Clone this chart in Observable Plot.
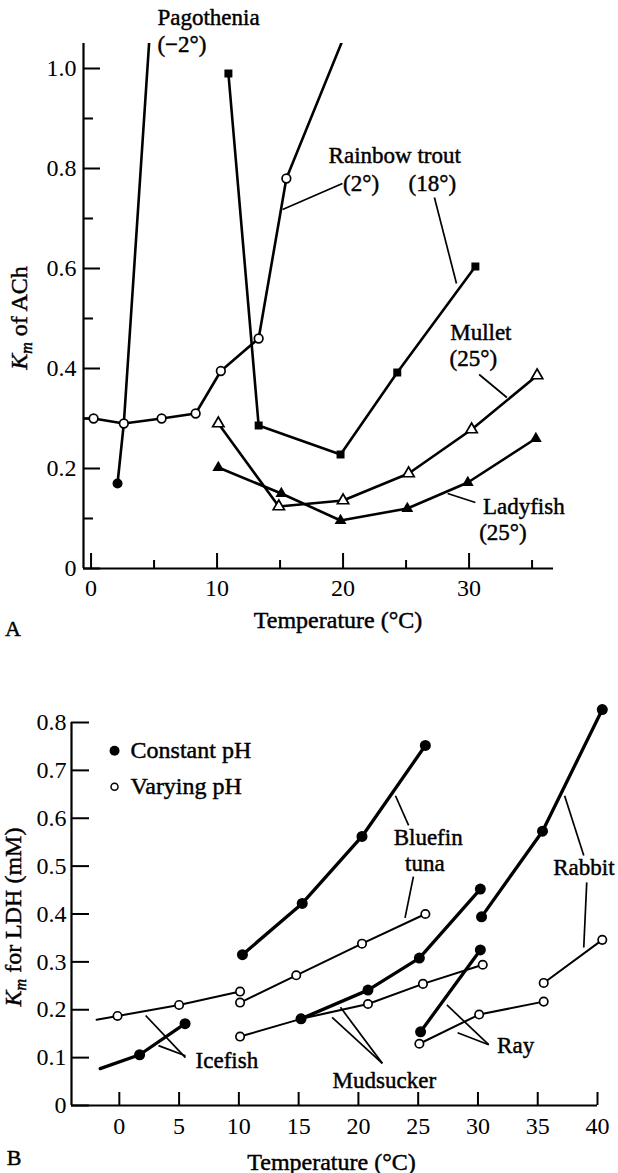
<!DOCTYPE html>
<html><head><meta charset="utf-8">
<script src="https://cdn.jsdelivr.net/npm/d3@7"></script>
<script src="https://cdn.jsdelivr.net/npm/@observablehq/plot@0.6"></script>
<style>
body{margin:0;background:#fff;}
#wrap{width:618px;height:1173px;position:relative;background:#fff;}
#wrap svg{display:block;}
</style></head><body><div id="wrap"></div>
<script>
// ---------- Panel A data: Km of ACh vs temperature ----------
const pagoTemp = [2.1, 2.6, 5.0];
const pagoKm   = [0.17, 0.29, 1.2];
const pagoMark = [1, 0, 0];

const trout2Temp = [-1.5, 0.2, 2.6, 5.6, 8.3, 10.3, 13.3, 15.5, 20.5];
const trout2Km   = [0.30, 0.30, 0.29, 0.30, 0.31, 0.395, 0.46, 0.78, 1.09];
const trout2Mark = [0, 1, 1, 1, 1, 1, 1, 1, 0];

const trout18Temp = [10.9, 13.3, 19.8, 24.3, 30.5];
const trout18Km   = [0.99, 0.286, 0.228, 0.392, 0.604];

const mulletTemp = [10.1, 14.9, 20.0, 25.2, 30.2, 35.4];
const mulletKm   = [0.29, 0.124, 0.136, 0.19, 0.278, 0.386];

const ladyTemp = [10.1, 15.1, 19.8, 25.1, 29.9, 35.3];
const ladyKm   = [0.202, 0.15, 0.096, 0.12, 0.172, 0.26];

const aXDomain = [-0.6, 36.7];
const aYDomain = [0, 1.05];
const aYMajor = [0, 0.2, 0.4, 0.6, 0.8, 1.0];
const aYMinor = [0.1, 0.3, 0.5, 0.7, 0.9];
const aXMajor = [0, 10, 20, 30];
const aXMinor = [5, 15, 25, 35];

const aLabels = ["Pagothenia", "(\u22122°)", "Rainbow trout", "(2°)", "(18°)", "Mullet", "(25°)", "Ladyfish", "(25°)"];
const aLabelT = [5.27, 5.27, 18.85, 20.0, 25.2, 28.5, 28.45, 31.1, 30.8];
const aLabelV = [1.102, 1.048, 0.826, 0.77, 0.77, 0.472, 0.42, 0.124, 0.072];
const aPanel = {label: "A", t: -6.2, v: -0.12};
const aTitle = {label: "Temperature (°C)", t: 19.6, v: -0.104};

const aLeadT1 = [19.95, 27.25, 30.8, 30.5];
const aLeadV1 = [0.77, 0.742, 0.388, 0.132];
const aLeadT2 = [15.2, 29.0, 33.0, 28.3];
const aLeadV2 = [0.718, 0.57, 0.342, 0.15];

// ---------- Panel B data: Km for LDH vs temperature ----------
const iceConstTemp = [-1.6, 1.7, 5.5];
const iceConstKm   = [0.077, 0.106, 0.171];
const iceConstMark = [0, 1, 1];
const iceVarTemp = [-1.9, -0.15, 5.0, 10.1];
const iceVarKm   = [0.179, 0.187, 0.21, 0.238];
const iceVarMark = [0, 1, 1, 1];

const tunaConstTemp = [10.3, 15.3, 20.3, 25.6];
const tunaConstKm   = [0.315, 0.422, 0.562, 0.752];
const tunaVarTemp = [10.1, 14.8, 20.3, 25.6];
const tunaVarKm   = [0.215, 0.272, 0.338, 0.40];

const mudConstTemp = [15.2, 20.8, 25.1, 30.2];
const mudConstKm   = [0.181, 0.241, 0.308, 0.452];
const mudVarTemp = [10.1, 15.2, 20.8, 25.4, 30.4];
const mudVarKm   = [0.144, 0.181, 0.212, 0.254, 0.294];

const rayConstTemp = [25.2, 30.2];
const rayConstKm   = [0.154, 0.325];
const rayVarTemp = [25.1, 30.1, 35.5];
const rayVarKm   = [0.129, 0.19, 0.217];

const rabConstTemp = [30.3, 35.4, 40.4];
const rabConstKm   = [0.394, 0.573, 0.827];
const rabVarTemp = [35.5, 40.4];
const rabVarKm   = [0.256, 0.346];

const bXDomain = [-4, 40];
const bYDomain = [0, 0.8];
const bYTicks = [0, 0.1, 0.2, 0.3, 0.4, 0.5, 0.6, 0.7, 0.8];
const bXTicks = [0, 5, 10, 15, 20, 25, 30, 35, 40];

const legendNames = ["Constant pH", "Varying pH"];
const legendT = -0.4;
const legendTextT = 0.94;
const legendV = [0.741, 0.666];

const bLabels = ["Bluefin", "tuna", "Rabbit", "Icefish", "Mudsucker", "Ray"];
const bLabelT = [22.95, 23.9, 36.3, 6.38, 17.84, 31.6];
const bLabelV = [0.56, 0.505, 0.497, 0.094, 0.052, 0.125];
const bPanel = {label: "B", t: -8.8, v: -0.11};
const bTitle = {label: "Temperature (°C)", t: 17.75, v: -0.119};

const bLeadT1 = [23.1, 24.6, 37.25, 39.1, 5.53, 5.53, 22.0, 22.0, 30.9, 30.9];
const bLeadV1 = [0.647, 0.478, 0.647, 0.466, 0.10, 0.104, 0.088, 0.088, 0.127, 0.127];
const bLeadT2 = [24.2, 23.9, 38.85, 38.85, 2.2, 3.28, 17.8, 18.5, 27.4, 28.3];
const bLeadV2 = [0.585, 0.392, 0.522, 0.33, 0.188, 0.125, 0.184, 0.205, 0.21, 0.152];

// ---------- helpers ----------
const FONT = "'Liberation Serif', 'Times New Roman', serif";
const series = (temps, vals, marks) => temps.map((t, i) => ({t, v: vals[i], m: marks ? marks[i] : 1}));
const shown = s => s.filter(d => d.m);
const zip3 = (a, b, c) => a.map((x, i) => ({label: x, t: b[i], v: c[i]}));
const links = (t1, v1, t2, v2) => t1.map((x, i) => ({t1: x, v1: v1[i], t2: t2[i], v2: v2[i]}));
const fmt = d => d === 0 ? "0" : d.toFixed(1);
const ink = {stroke: "black", strokeWidth: 0.45, fill: "black"};

// ---------- Panel A ----------
const pago = series(pagoTemp, pagoKm, pagoMark);
const trout2 = series(trout2Temp, trout2Km, trout2Mark);
const trout18 = series(trout18Temp, trout18Km);
const mullet = series(mulletTemp, mulletKm);
const lady = series(ladyTemp, ladyKm);
const lineA = {x: "t", y: "v", stroke: "black", strokeWidth: 2.6, clip: true};

const plotA = Plot.plot({
  width: 618, height: 640,
  marginLeft: 83, marginRight: 65, marginTop: 43, marginBottom: 72,
  x: {domain: aXDomain, axis: null},
  y: {domain: aYDomain, axis: null},
  style: {fontFamily: FONT, fontSize: "24px", background: "white", color: "black", overflow: "visible"},
  marks: [
    Plot.ruleY([aYDomain[0]], {strokeWidth: 2.2}),
    Plot.ruleX([aXDomain[0]], {y1: aYDomain[0], y2: aYDomain[1], strokeWidth: 2.2}),
    Plot.axisY(aYMajor, {tickSize: -17, tickFormat: () => "", strokeWidth: 2, label: null}),
    Plot.axisY(aYMinor, {tickSize: -10, tickFormat: () => "", strokeWidth: 2, label: null}),
    Plot.axisY(aYMajor, {tickSize: 0, tickPadding: 7, tickFormat: fmt, fontSize: 24, ...ink, label: null}),
    Plot.axisX(aXMajor, {tickSize: -15, tickFormat: () => "", strokeWidth: 2, label: null}),
    Plot.axisX(aXMinor, {tickSize: -8, tickFormat: () => "", strokeWidth: 2, label: null}),
    Plot.axisX(aXMajor, {tickSize: 0, tickPadding: 10, fontSize: 24, ...ink, label: null}),
    Plot.line(pago, lineA),
    Plot.line(trout2, lineA),
    Plot.line(trout18, lineA),
    Plot.line(mullet, lineA),
    Plot.line(lady, lineA),
    Plot.link(links(aLeadT1, aLeadV1, aLeadT2, aLeadV2), {x1: "t1", y1: "v1", x2: "t2", y2: "v2", stroke: "black", strokeWidth: 1.7}),
    Plot.dot(shown(trout2), {x: "t", y: "v", r: 4.3, fill: "white", stroke: "black", strokeWidth: 1.7}),
    Plot.dot(shown(pago), {x: "t", y: "v", r: 5, fill: "black"}),
    Plot.dot(trout18, {x: "t", y: "v", symbol: "square", r: 4.5, fill: "black"}),
    Plot.dot(mullet, {x: "t", y: "v", symbol: "triangle", r: 4.2, fill: "white", stroke: "black", strokeWidth: 1.7}),
    Plot.dot(lady, {x: "t", y: "v", symbol: "triangle", r: 4.4, fill: "black"}),
    Plot.text(zip3(aLabels, aLabelT, aLabelV), {x: "t", y: "v", text: "label", textAnchor: "start", fontSize: 23, ...ink}),
    Plot.text([aPanel], {x: "t", y: "v", text: "label", fontSize: 22, ...ink}),
    Plot.text([aTitle], {x: "t", y: "v", text: "label", fontSize: 24, ...ink})
  ]
});

// ---------- Panel B ----------
const iceC = series(iceConstTemp, iceConstKm, iceConstMark);
const iceV = series(iceVarTemp, iceVarKm, iceVarMark);
const tunaC = series(tunaConstTemp, tunaConstKm);
const tunaV = series(tunaVarTemp, tunaVarKm);
const mudC = series(mudConstTemp, mudConstKm);
const mudV = series(mudVarTemp, mudVarKm);
const rayC = series(rayConstTemp, rayConstKm);
const rayV = series(rayVarTemp, rayVarKm);
const rabC = series(rabConstTemp, rabConstKm);
const rabV = series(rabVarTemp, rabVarKm);
const constSeries = [iceC, tunaC, mudC, rayC, rabC];
const varSeries = [iceV, tunaV, mudV, rayV, rabV];
const lineC = {x: "t", y: "v", stroke: "black", strokeWidth: 3.3};
const lineV = {x: "t", y: "v", stroke: "black", strokeWidth: 2};
const openDot = {x: "t", y: "v", r: 4.2, fill: "white", stroke: "black", strokeWidth: 1.7};
const fillDot = {x: "t", y: "v", r: 5.5, fill: "black"};

const plotB = Plot.plot({
  width: 618, height: 533,
  marginLeft: 71, marginRight: 21, marginTop: 82, marginBottom: 68,
  x: {domain: bXDomain, axis: null},
  y: {domain: bYDomain, axis: null},
  style: {fontFamily: FONT, fontSize: "24px", background: "white", color: "black", overflow: "visible"},
  marks: [
    Plot.ruleY([bYDomain[0]], {strokeWidth: 2.2}),
    Plot.ruleX([bXDomain[0]], {y1: bYDomain[0], y2: bYDomain[1], strokeWidth: 2.2}),
    Plot.axisY(bYTicks, {tickSize: -18, tickFormat: () => "", strokeWidth: 2, label: null}),
    Plot.axisY(bYTicks, {tickSize: 0, tickPadding: 5, tickFormat: fmt, fontSize: 24, ...ink, label: null}),
    Plot.axisX(bXTicks, {tickSize: -13, tickFormat: () => "", strokeWidth: 2, label: null}),
    Plot.axisX(bXTicks, {tickSize: 0, tickPadding: 11, fontSize: 24, ...ink, label: null}),
    ...varSeries.map(s => Plot.line(s, lineV)),
    ...constSeries.map(s => Plot.line(s, lineC)),
    Plot.link(links(bLeadT1, bLeadV1, bLeadT2, bLeadV2), {x1: "t1", y1: "v1", x2: "t2", y2: "v2", stroke: "black", strokeWidth: 1.7}),
    ...varSeries.map(s => Plot.dot(shown(s), openDot)),
    ...constSeries.map(s => Plot.dot(shown(s), fillDot)),
    Plot.dot([legendV[0]], {x: [legendT], y: d => d, r: 5, fill: "black"}),
    Plot.dot([legendV[1]], {x: [legendT], y: d => d, r: 3.5, fill: "white", stroke: "black", strokeWidth: 1.5}),
    Plot.text(legendNames, {x: [legendTextT, legendTextT], y: legendV, text: d => d, textAnchor: "start", fontSize: 24, ...ink}),
    Plot.text(zip3(bLabels, bLabelT, bLabelV), {x: "t", y: "v", text: "label", textAnchor: "start", fontSize: 23, ...ink}),
    Plot.text([bPanel], {x: "t", y: "v", text: "label", fontSize: 22, ...ink}),
    Plot.text([bTitle], {x: "t", y: "v", text: "label", fontSize: 24, ...ink})
  ]
});

// y-axis titles with italic K and subscript m
function yTitle(svg, x, y, rest) {
  const t = d3.select(svg).append("text")
    .attr("transform", `translate(${x},${y}) rotate(-90)`)
    .attr("text-anchor", "middle")
    .attr("font-family", FONT).attr("font-size", 24)
    .attr("fill", "black").attr("stroke", "black").attr("stroke-width", 0.45);
  t.append("tspan").attr("font-style", "italic").text("K");
  t.append("tspan").attr("font-style", "italic").attr("font-size", 16).attr("dy", 5).text("m");
  t.append("tspan").attr("dy", -5).text(rest);
}
yTitle(plotA, 27, 318, " of ACh");
yTitle(plotB, 21, 917 - 640, " for LDH (mM)");

const wrap = document.getElementById("wrap");
wrap.appendChild(plotA);
wrap.appendChild(plotB);
</script>
</body></html>
